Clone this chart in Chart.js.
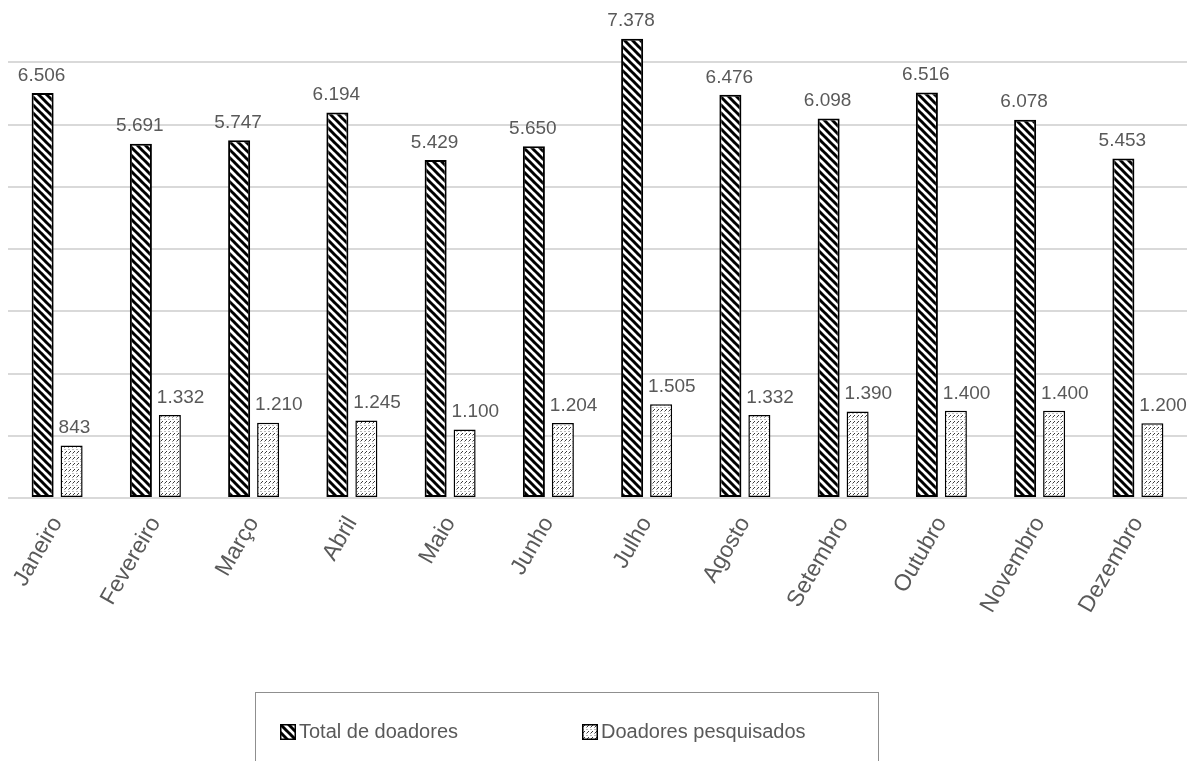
<!DOCTYPE html>
<html lang="pt-BR">
<head>
<meta charset="utf-8">
<title>Doadores por mês</title>
<script src="https://cdn.jsdelivr.net/npm/chart.js@4.4.1/dist/chart.umd.min.js"></script>
<style>
    html, body { margin: 0; padding: 0; background: #fff; overflow: hidden; }
    #wrap { position: relative; width: 1187px; height: 761px; }
    #legenda {
        position: absolute; left: 255px; top: 692px; width: 624px; height: 90px;
        border: 1px solid #8f8f8f; box-sizing: border-box;
        font: 20px "Liberation Sans", Arial, sans-serif; color: #595959;
    }
    #legenda .item { position: absolute; top: 27px; display: flex; align-items: center; }
    #legenda canvas { margin-right: 3px; }
</style>
</head>
<body>
<div id="wrap">
    <canvas id="grafico"></canvas>
    <div id="legenda"></div>
</div>
<script>
const meses = ['Janeiro', 'Fevereiro', 'Março', 'Abril', 'Maio', 'Junho',
    'Julho', 'Agosto', 'Setembro', 'Outubro', 'Novembro', 'Dezembro'];
const totalDoadores = [6506, 5691, 5747, 6194, 5429, 5650, 7378, 6476, 6098, 6516, 6078, 5453];
const doadoresPesquisados = [843, 1332, 1210, 1245, 1100, 1204, 1505, 1332, 1390, 1400, 1400, 1200];
const escalaY = [0, 8000, 1000]; // min, max, passo

const cinza = '#595959';
const fonte = '"Liberation Sans", Arial, sans-serif';

// hachura diagonal grossa (\\\) para o total
function listrado(ctx) {
    let c = document.createElement('canvas');
    c.width = c.height = 8;
    let g = c.getContext('2d');
    g.fillStyle = '#fff';
    g.fillRect(0, 0, 8, 8);
    g.strokeStyle = '#000';
    g.lineWidth = 3;
    for (let o of [-8, 0, 8]) {
        g.beginPath();
        g.moveTo(o - 1, -1);
        g.lineTo(o + 9, 9);
        g.stroke();
    }
    return ctx.createPattern(c, 'repeat');
}

// fileiras de tracinhos inclinados para os pesquisados
function tracejado(ctx) {
    let c = document.createElement('canvas');
    c.width = 4; c.height = 6;
    let g = c.getContext('2d');
    g.fillStyle = '#fff';
    g.fillRect(0, 0, 4, 6);
    g.strokeStyle = '#3a3a3a';
    g.lineWidth = 1;
    g.beginPath();
    g.moveTo(0.5, 3.5);
    g.lineTo(3, 1);
    g.stroke();
    g.fillStyle = '#bdbdbd';
    g.fillRect(0, 5, 2, 1);
    return ctx.createPattern(c, 'repeat');
}

const fmt = v => v.toLocaleString('pt-BR');

// valores escritos acima de cada barra; os da 2ª série saem alinhados à esquerda da barra
const rotulos = {
    id: 'rotulos',
    afterDatasetsDraw(chart) {
        let ctx = chart.ctx;
        ctx.save();
        ctx.font = `19px ${fonte}`;
        ctx.fillStyle = cinza;
        ctx.textBaseline = 'bottom';
        chart.data.datasets.forEach((ds, i) => {
            chart.getDatasetMeta(i).data.forEach((bar, j) => {
                if (i == 0) {
                    ctx.textAlign = 'center';
                    ctx.fillText(fmt(ds.data[j]), bar.x - 1, bar.y - 8);
                } else {
                    ctx.textAlign = 'left';
                    ctx.fillText(fmt(ds.data[j]), bar.x - bar.width / 2 - 2, bar.y - 8);
                }
            });
        });
        ctx.restore();
    }
};

const canvas = document.getElementById('grafico');
const ctx = canvas.getContext('2d');

const series = [
    { label: 'Total de doadores', data: totalDoadores, pattern: listrado, border: 2 },
    { label: 'Doadores pesquisados', data: doadoresPesquisados, pattern: tracejado, border: 1.5 }
];

new Chart(canvas, {
    type: 'bar',
    data: {
        labels: meses,
        datasets: series.map(s => ({
            label: s.label,
            data: s.data,
            backgroundColor: s.pattern(ctx),
            borderColor: '#000',
            borderWidth: s.border,
            borderSkipped: false,
            categoryPercentage: 0.59,
            barPercentage: 0.76
        }))
    },
    options: {
        responsive: true,
        maintainAspectRatio: false,
        animation: false,
        layout: { padding: { left: 8, top: 0, right: 0, bottom: 0 } },
        plugins: {
            legend: { display: false },
            tooltip: { enabled: false }
        },
        scales: {
            x: {
                grid: { display: false },
                border: { display: false },
                ticks: {
                    color: cinza,
                    font: { family: fonte, size: 23 },
                    minRotation: 60,
                    maxRotation: 60,
                    autoSkip: false,
                    padding: 6
                },
                afterFit: s => { s.height = 263; }
            },
            y: {
                min: escalaY[0],
                max: escalaY[1],
                border: { display: false },
                ticks: { display: false, stepSize: escalaY[2] },
                grid: {
                    drawTicks: false,
                    lineWidth: 2,
                    color: c => c.tick.value === escalaY[1] ? 'rgba(0,0,0,0)' : '#d9d9d9'
                },
                afterFit: s => { s.width = 0; }
            }
        }
    },
    plugins: [rotulos]
});

// legenda em caixa, com amostras das mesmas hachuras
const legenda = document.getElementById('legenda');
series.forEach((s, i) => {
    let item = document.createElement('div');
    item.className = 'item';
    item.style.left = (i == 0 ? 24 : 326) + 'px';
    let amostra = document.createElement('canvas');
    amostra.width = amostra.height = 16;
    let g = amostra.getContext('2d');
    g.fillStyle = s.pattern(g);
    g.fillRect(0, 0, 16, 16);
    g.strokeStyle = '#000';
    g.lineWidth = 1.5;
    g.strokeRect(0.75, 0.75, 14.5, 14.5);
    item.appendChild(amostra);
    item.appendChild(document.createTextNode(s.label));
    legenda.appendChild(item);
});
</script>
</body>
</html>
